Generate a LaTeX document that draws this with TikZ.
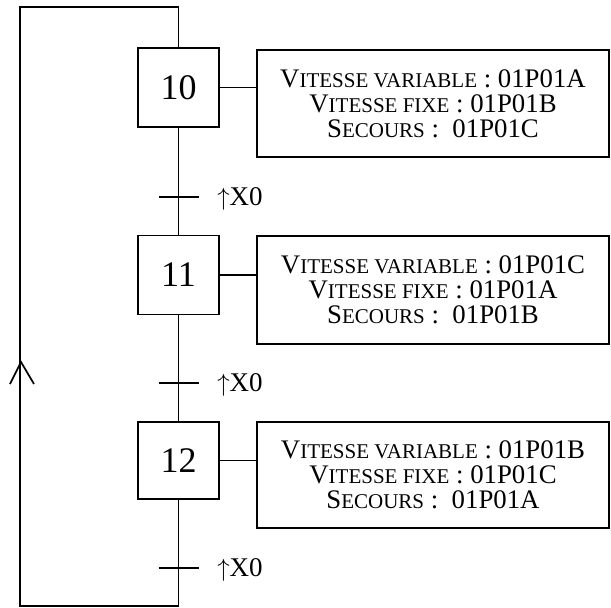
\documentclass[tikz,border=0pt]{standalone}
\usepackage{fontspec}
\setmainfont{Liberation Serif}
\newcommand\smc[1]{{\fontsize{21bp}{25bp}\selectfont #1}}
\begin{document}
\begin{tikzpicture}[x=1bp,y=-1bp,
  every path/.style={line width=1.7bp},
  stepbox/.style={draw,line width=1.7bp,minimum width=81bp,minimum height=79bp,inner sep=0pt,font=\fontsize{36bp}{40bp}\selectfont},
  infobox/.style={draw,line width=1.7bp,minimum width=352bp,minimum height=107bp,inner sep=0pt,align=center,font=\fontsize{26.8bp}{25bp}\selectfont},
  translabel/.style={anchor=west,inner sep=0pt,font=\fontsize{27bp}{28bp}\selectfont},
  tick/.style={line width=1.7bp}]
\useasboundingbox (0,0) rectangle (611,608);
% steps
\node[stepbox] (s10) at (178.5,87.5) {10};
\node[stepbox] (s11) at (178.5,275) {11};
\node[stepbox,minimum height=77bp] (s12) at (178.5,460.5) {12};
% actions
\node[infobox] (i10) at (433,103.5) {\raisebox{2bp}{\parbox{340bp}{\centering V\smc{ITESSE VARIABLE} : 01P01A\\V\smc{ITESSE FIXE} : 01P01B\\S\smc{ECOURS} :~ 01P01C}}};
\node[infobox,minimum height=108bp] (i11) at (433,290) {\raisebox{2bp}{\parbox{340bp}{\centering V\smc{ITESSE VARIABLE} : 01P01C\\V\smc{ITESSE FIXE} : 01P01A\\S\smc{ECOURS} :~ 01P01B}}};
\node[infobox,minimum height=106bp] (i12) at (433,475) {\raisebox{2bp}{\parbox{340bp}{\centering V\smc{ITESSE VARIABLE} : 01P01B\\V\smc{ITESSE FIXE} : 01P01C\\S\smc{ECOURS} :~ 01P01A}}};
% transitions
\coordinate (t1) at (178.5,197);
\coordinate (t2) at (178.5,383);
\coordinate (t3) at (178.5,568);
\coordinate (bot) at (178.5,606);
\coordinate (top) at (178.5,7);
\coordinate (lb) at (20,606);
\coordinate (lt) at (20,7);
\foreach \t in {t1,t2,t3}{
  \draw[tick] ([xshift=-20bp]\t) -- ([xshift=20bp]\t);
  \node[translabel] at ([xshift=38bp,yshift=-2bp]\t) {$\uparrow$X0};
}
% links
\draw (s10.east) -- (s10.east -| i10.west);
\draw (s11.east) -- (s11.east -| i11.west);
\draw (s12.east) -- (s12.east -| i12.west);
\draw (s10.south) -- (s11.north);
\draw (s11.south) -- (s12.north);
\draw (s12.south) -- (bot) -- (lb) -- (lt) -- (top) -- (s10.north);
% arrow on return line
\coordinate (tip) at (21,362);
\draw[line join=miter] (10,384) -- (tip) -- (34,384);
\end{tikzpicture}
\end{document}
